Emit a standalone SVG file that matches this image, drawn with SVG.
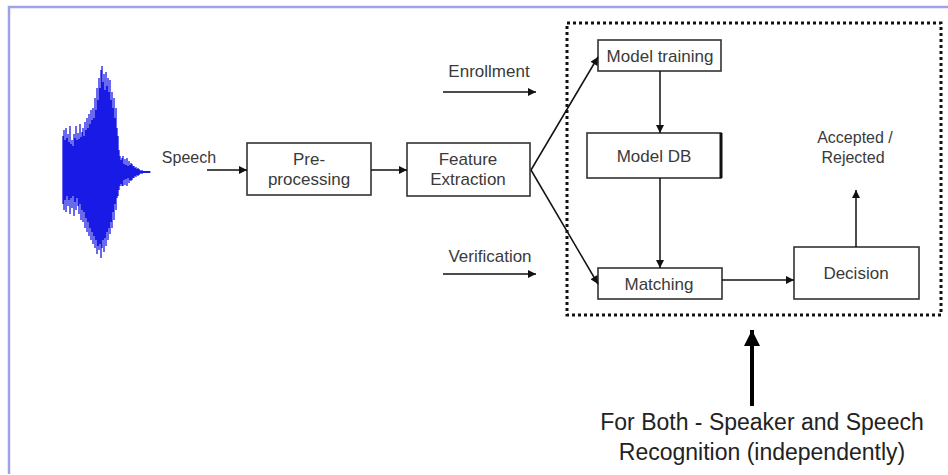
<svg xmlns="http://www.w3.org/2000/svg" width="948" height="475" viewBox="0 0 948 475">
<defs>
<marker id="ah" viewBox="0 0 10 10" refX="10" refY="5" markerWidth="11" markerHeight="8" markerUnits="userSpaceOnUse" orient="auto">
<path d="M0,0 L10,5 L0,10 z" fill="#111"/>
</marker>
<marker id="bigah" viewBox="0 0 10 10" refX="10" refY="5" markerWidth="22" markerHeight="16" markerUnits="userSpaceOnUse" orient="auto">
<path d="M0,0 L10,5 L0,10 z" fill="#000"/>
</marker>
</defs>
<style>
.box{fill:#fff;stroke:#333;stroke-width:1.6}
.t{font-family:"Liberation Sans",Arial,sans-serif;font-size:17px;fill:#3a3a3a;text-anchor:middle}
.s{font-size:16px}
.big{font-size:23px;fill:#222}
.c{fill:none;stroke:#111;stroke-width:1.5;marker-end:url(#ah)}
</style>
<rect x="0" y="0" width="948" height="475" fill="#fff"/>
<g id="frame" fill="none" stroke="#9ea2e8" stroke-width="2.5">
<path d="M9,474 V7 H948"/>
</g>
<g id="waveform" stroke="#1a1ae6" stroke-width="1.3" fill="none">
<path d="M63,136V204M64,130V210M65,140V200M66,128V212M67,138V196M68,134V206M69,142V200M70,126V214M71,144V198M72,140V208M73,146V196M74,134V216M75,138V202M76,126V210M77,140V198M78,133V206M79,139V214M80,124V204M81,137V220M82,132V210M83,128V222M84,136V212M85,122V228M86,130V218M87,118V232M88,128V222M89,114V236M90,124V228M91,110V240M92,120V232M93,108V244M94,118V236M95,98V248M96,110V240M97,88V254M98,100V246M99,78V250M100,88V244M101,70V258M102,66V248M103,82V240M104,74V252M105,90V238M106,72V246M107,86V232M108,78V240M109,92V228M110,80V234M111,100V222M112,92V228M113,108V212M114,98V220M115,118V204M116,108V210M117,128V198M118,136V196M119,150V190M120,156V186M121,160V184M122,158V186M123,156V186M124,164V180M125,159V185M126,165V179M127,158V186M128,166V178M129,161V183M130,165V180M131,163V181M132,164V180M133,166V178M134,166V178M135,168V176M136,167V177M137,169V175M138,168V176M139,169V175M140,170V174M142,170V174M144,171V173M146,171V173M148,171V173M150,171.5V172.5"/>
<path d="M63,172H150" stroke-width="2"/>
</g>
<g id="dotted-region">
<rect x="567" y="23" width="374" height="292" fill="none" stroke="#111" stroke-width="3" stroke-dasharray="3,3"/>
</g>
<g id="speech-label"><text class="t s" x="189" y="163">Speech</text></g>
<g id="preprocessing">
<rect class="box" x="247" y="143" width="124" height="52"/>
<text class="t" x="309" y="165">Pre-</text>
<text class="t" x="309" y="185">processing</text>
</g>
<g id="feature-extraction">
<rect class="box" x="407" y="143" width="123" height="53"/>
<text class="t" x="468" y="165">Feature</text>
<text class="t" x="468" y="185">Extraction</text>
</g>
<g id="enrollment-label"><text class="t" x="489" y="77">Enrollment</text></g>
<g id="verification-label"><text class="t" x="490" y="262">Verification</text></g>
<g id="model-training">
<rect class="box" x="598" y="40" width="123" height="31"/>
<text class="t" x="660" y="62">Model training</text>
</g>
<g id="model-db">
<rect class="box" x="587" y="133" width="134" height="45"/>
<path d="M721,133V178" stroke="#111" stroke-width="3"/>
<text class="t" x="654" y="162">Model DB</text>
</g>
<g id="matching">
<rect class="box" x="598" y="268" width="124" height="31"/>
<text class="t" x="659" y="290">Matching</text>
</g>
<g id="decision">
<rect class="box" x="794" y="247" width="125" height="52"/>
<text class="t" x="856" y="279">Decision</text>
</g>
<g id="result-label">
<text class="t s" x="855" y="143">Accepted /</text>
<text class="t s" x="853" y="163">Rejected</text>
</g>
<g id="note">
<text class="t big" x="762" y="430">For Both - Speaker and Speech</text>
<text class="t big" x="762" y="460">Recognition (independently)</text>
</g>
<g id="connectors">
<path class="c" d="M207,170H247"/>
<path class="c" d="M371,170H407"/>
<path class="c" d="M443,92H536"/>
<path class="c" d="M443,274H536"/>
<path class="c" d="M531,170L598,57"/>
<path class="c" d="M531,170L598,284"/>
<path class="c" d="M660,71V133"/>
<path class="c" d="M660,178V268"/>
<path class="c" d="M722,280H794"/>
<path class="c" d="M856,247V190"/>
<path d="M752,406V330" fill="none" stroke="#000" stroke-width="4" marker-end="url(#bigah)"/>
</g>
</svg>
